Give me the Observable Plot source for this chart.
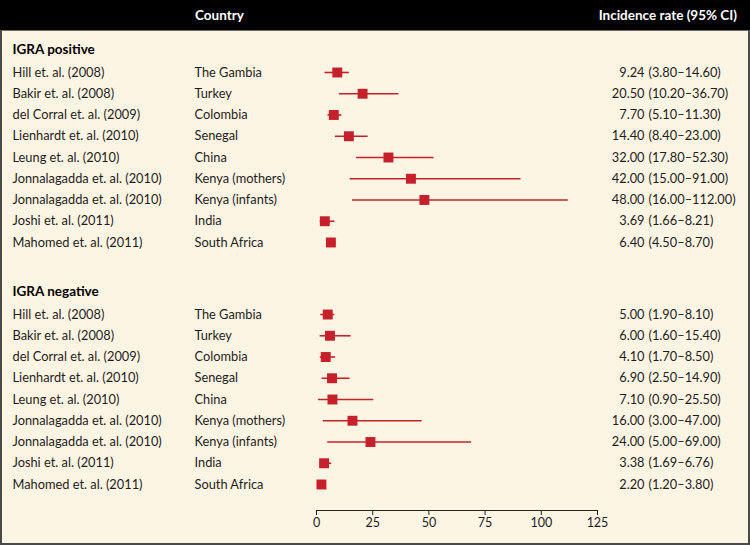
<!DOCTYPE html>
<html>
<head>
<meta charset="utf-8">
<script src="https://cdn.jsdelivr.net/npm/d3@7"></script>
<script src="https://cdn.jsdelivr.net/npm/@observablehq/plot@0.6"></script>
<style>
  html, body { margin: 0; padding: 0; background: #fdf5e3; }
  #hdr { position: relative; width: 750px; height: 30px; background: #000; color: #fff;
         font: bold 13.5px Lato, sans-serif; }
  #hdr span { position: absolute; top: 7px; }
  #body { width: 750px; height: 515px; box-sizing: border-box; background: #fdf5e3;
          border-left: 2px solid #4a4a4a; border-right: 2px solid #4a4a4a;
          border-bottom: 2px solid #4a4a4a; border-top: 1px solid #6b6b6b; }
  #body svg { display: block; }
</style>
</head>
<body>
<div id="hdr"><span style="left:195px">Country</span><span style="right:13px">Incidence rate (95% CI)</span></div>
<div id="body"></div>
<script>
const groups = ["IGRA positive", "IGRA negative"];
const studies = ["Hill et. al. (2008)", "Bakir et. al. (2008)", "del Corral et. al. (2009)",
  "Lienhardt et. al. (2010)", "Leung et. al. (2010)", "Jonnalagadda et. al. (2010)",
  "Jonnalagadda et. al. (2010)", "Joshi et. al. (2011)", "Mahomed et. al. (2011)"];
const countries = ["The Gambia", "Turkey", "Colombia", "Senegal", "China",
  "Kenya (mothers)", "Kenya (infants)", "India", "South Africa"];
const posRate = [9.24, 20.50, 7.70, 14.40, 32.00, 42.00, 48.00, 3.69, 6.40];
const posLow  = [3.80, 10.20, 5.10, 8.40, 17.80, 15.00, 16.00, 1.66, 4.50];
const posHigh = [14.60, 36.70, 11.30, 23.00, 52.30, 91.00, 112.00, 8.21, 8.70];
const negRate = [5.00, 6.00, 4.10, 6.90, 7.10, 16.00, 24.00, 3.38, 2.20];
const negLow  = [1.90, 1.60, 1.70, 2.50, 0.90, 3.00, 5.00, 1.69, 1.20];
const negHigh = [8.10, 15.40, 8.50, 14.90, 25.50, 47.00, 69.00, 6.76, 3.80];
const xTicks = [0, 25, 50, 75, 100, 125];

const groupOffset = 11.39;   // row offset of the second group (blank rows between groups)
const fmt = d3.format(".2f");
const series = [[posRate, posLow, posHigh], [negRate, negLow, negHigh]];
const rows = [];
series.forEach(([r, lo, hi], g) => {
  studies.forEach((s, i) => rows.push({
    study: s, country: countries[i], rate: r[i], lo: lo[i], hi: hi[i],
    row: i + g * groupOffset,
    rateLabel: fmt(r[i]),
    ciLabel: `(${fmt(lo[i])}\u2013${fmt(hi[i])})`
  }));
});
const heads = groups.map((name, g) => ({name, row: g * groupOffset - 1.08}));

const red = "#c5202b";
const ink = "#1d1d1d";
const font = "Lato, sans-serif";
const fs = 12.8;

const chart = Plot.plot({
  width: 746, height: 512,
  marginLeft: 314, marginRight: 151, marginTop: 41, marginBottom: 33,
  insetBottom: 26,
  style: {background: "transparent", fontFamily: font, fontSize: "13px", color: ink},
  x: {domain: [0, 125], ticks: xTicks, label: null, tickSize: 5, tickPadding: 3},
  y: {domain: [0, 9 - 1 + groupOffset], reverse: true, axis: null},
  marks: [
    Plot.frame({anchor: "bottom", stroke: "#222", strokeWidth: 1.2}),
    Plot.axisX({ticks: xTicks, tickSize: 5, tickPadding: 3, label: null, fontSize: 12.5, stroke: "#222"}),
    Plot.ruleY(rows, {y: "row", x1: "lo", x2: "hi", stroke: red, strokeWidth: 1.6}),
    Plot.dot(rows, {x: "rate", y: "row", symbol: "square", r: 5.6, fill: red, stroke: null}),
    Plot.text(rows, {y: "row", text: "study", frameAnchor: "left", textAnchor: "start", dx: -304, fill: ink, fontSize: fs}),
    Plot.text(rows, {y: "row", text: "country", frameAnchor: "left", textAnchor: "start", dx: -122, fill: ink, fontSize: fs}),
    Plot.text(rows, {y: "row", text: "rateLabel", frameAnchor: "right", textAnchor: "end", dx: 47, fill: ink, fontSize: fs}),
    Plot.text(rows, {y: "row", text: "ciLabel", frameAnchor: "right", textAnchor: "start", dx: 51, fill: ink, fontSize: fs}),
    Plot.text(heads, {y: "row", text: "name", frameAnchor: "left", textAnchor: "start", dx: -304, fill: "#000", fontSize: 13.5, fontWeight: "bold"})
  ]
});
document.getElementById("body").appendChild(chart);
</script>
</body>
</html>
